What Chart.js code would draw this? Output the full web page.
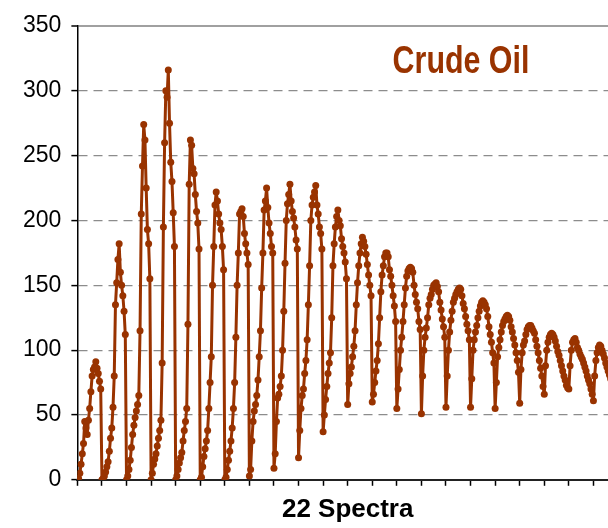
<!DOCTYPE html>
<html>
<head>
<meta charset="utf-8">
<script src="https://cdn.jsdelivr.net/npm/chart.js@4.4.1/dist/chart.umd.min.js"></script>
<style>
  html, body { margin: 0; padding: 0; background: #fff; overflow: hidden; }
  #wrap { width: 640px; height: 528px; }
</style>
</head>
<body>
<div id="wrap"><canvas id="oilChart" width="640" height="528"></canvas></div>
<script>
// one array per spectrum, 20 readings each
const spec01 = [0, 1, 5, 12, 20, 28, 45, 40, 35, 46, 55, 68, 80, 85, 87, 91, 86, 82, 76, 70];
const spec02 = [0, 1, 3, 6, 10, 14, 22, 32, 40, 56, 80, 135, 152, 170, 182, 160, 150, 142, 130, 112];
const spec03 = [0, 3, 8, 15, 25, 35, 42, 48, 53, 58, 65, 115, 205, 242, 274, 262, 225, 193, 182, 155];
const spec04 = [0, 5, 12, 16, 20, 26, 32, 38, 46, 90, 195, 260, 300, 295, 316, 275, 245, 230, 206, 180];
const spec05 = [0, 3, 8, 13, 17, 21, 30, 38, 45, 55, 120, 228, 262, 258, 240, 236, 220, 207, 198, 178];
const spec06 = [0, 2, 10, 18, 24, 30, 38, 55, 75, 95, 150, 180, 212, 222, 215, 205, 198, 193, 180, 162];
const spec07 = [0, 2, 8, 15, 22, 30, 40, 55, 75, 110, 150, 175, 205, 207, 209, 203, 190, 182, 175, 166];
const spec08 = [3, 8, 30, 45, 53, 58, 65, 77, 95, 115, 148, 175, 208, 215, 225, 210, 198, 190, 180, 175];
const spec09 = [9, 20, 45, 63, 66, 72, 80, 100, 130, 167, 200, 213, 220, 228, 215, 207, 202, 195, 185, 178];
const spec10 = [17, 38, 55, 65, 70, 82, 92, 108, 135, 165, 200, 212, 218, 222, 227, 212, 205, 195, 190, 178];
const spec11 = [37, 50, 62, 72, 82, 90, 98, 125, 165, 182, 195, 203, 208, 200, 196, 186, 180, 175, 168, 155];
const spec12 = [58, 74, 82, 87, 95, 103, 115, 135, 152, 165, 175, 182, 187, 184, 180, 174, 166, 158, 150, 142];
const spec13 = [60, 66, 75, 84, 92, 105, 125, 145, 158, 165, 172, 175, 175, 172, 162, 157, 150, 142, 134, 122];
const spec14 = [55, 70, 85, 100, 110, 122, 135, 148, 157, 161, 163, 164, 163, 160, 150, 143, 137, 132, 122, 116];
const spec15 = [51, 80, 100, 110, 117, 125, 135, 140, 143, 147, 150, 151, 152, 149, 145, 137, 131, 124, 118, 110];
const spec16 = [56, 80, 100, 114, 123, 130, 137, 140, 143, 145, 147, 148, 147, 142, 136, 132, 126, 120, 115, 108];
const spec17 = [56, 78, 100, 108, 114, 119, 125, 130, 134, 137, 138, 137, 135, 132, 126, 118, 112, 106, 98, 90];
const spec18 = [55, 75, 95, 102, 108, 114, 119, 122, 124, 126, 127, 126, 123, 118, 114, 109, 104, 98, 92, 83];
const spec19 = [59, 85, 98, 104, 107, 112, 116, 118, 119, 119, 117, 115, 113, 108, 103, 98, 92, 86, 80, 72];
const spec20 = [66, 88, 100, 106, 110, 112, 113, 112, 110, 107, 103, 99, 96, 92, 88, 84, 80, 77, 73, 71];
const spec21 = [70, 88, 100, 106, 108, 109, 106, 102, 100, 97, 95, 93, 90, 87, 84, 80, 77, 74, 70, 66];
const spec22 = [61, 80, 92, 98, 102, 104, 103, 100, 97, 94, 90, 87, 84, 81, 78, 75, 72, 69, 66, 63];

const spectra = [spec01, spec02, spec03, spec04, spec05, spec06, spec07, spec08, spec09, spec10, spec11,
                 spec12, spec13, spec14, spec15, spec16, spec17, spec18, spec19, spec20, spec21, spec22];

const chartTitle = "Crude Oil";
const xAxisTitle = "22 Spectra";
const pointsPerSpectrum = 20;

// spectrum k sits between tick k and tick k+1
const oilPoints = [];
spectra.forEach((spec, k) => {
    spec.forEach((v, j) => {
        oilPoints.push({ x: k + j / pointsPerSpectrum, y: v });
    });
});

Chart.defaults.font.family = '"Liberation Sans", Arial, sans-serif';

// big brown label in the upper right (narrow bold look)
const labelPlugin = {
    id: "crudeOilLabel",
    afterDraw(chart) {
        const c = chart.ctx;
        c.save();
        c.font = 'bold 38px "Liberation Sans", Arial, sans-serif';
        c.fillStyle = "#993300";
        c.textAlign = "center";
        c.textBaseline = "alphabetic";
        c.translate(461, 73);
        c.scale(0.8, 1);
        c.fillText(chartTitle, 0, 0);
        c.restore();
    },
};

const ctx = document.getElementById("oilChart").getContext("2d");
new Chart(ctx, {
    type: "line",
    data: {
        datasets: [
            {
                data: oilPoints,
                borderColor: "#993300",
                backgroundColor: "#993300",
                borderWidth: 3,
                borderJoinStyle: "round",
                pointRadius: 3.5,
                pointBorderWidth: 0,
                pointBackgroundColor: "#993300",
                tension: 0,
            },
        ],
    },
    options: {
        responsive: false,
        animation: false,
        events: [],
        layout: { padding: { left: 13, right: 22, top: 26, bottom: 3 } },
        plugins: {
            legend: { display: false },
            tooltip: { enabled: false },
        },
        scales: {
            x: {
                type: "linear",
                min: 0,
                max: 22,
                ticks: { stepSize: 1, display: false },
                grid: {
                    drawOnChartArea: false,
                    drawTicks: true,
                    tickLength: 6,
                    tickColor: "#000",
                    tickWidth: 1.5,
                },
                border: { color: "#222", width: 2 },
                title: {
                    display: true,
                    text: xAxisTitle,
                    color: "#000",
                    font: { size: 26, weight: "bold" },
                    padding: { top: 8, bottom: 0 },
                },
            },
            y: {
                min: 0,
                max: 350,
                ticks: {
                    stepSize: 50,
                    color: "#000",
                    font: { size: 23 },
                    padding: 10,
                },
                grid: {
                    color: (c) => (c.tick && c.tick.value === 350 ? "#a0a0a0" : "#8c8c8c"),
                    lineWidth: (c) => (c.tick && c.tick.value === 350 ? 2 : 1.2),
                    tickColor: "#000",
                    tickLength: 6,
                    tickWidth: 1.5,
                },
                border: {
                    color: "#000",
                    width: 1.5,
                    dash: (c) => (c.tick && c.tick.value === 350 ? [] : [9, 6]),
                },
            },
        },
    },
    plugins: [labelPlugin],
});
</script>
</body>
</html>
